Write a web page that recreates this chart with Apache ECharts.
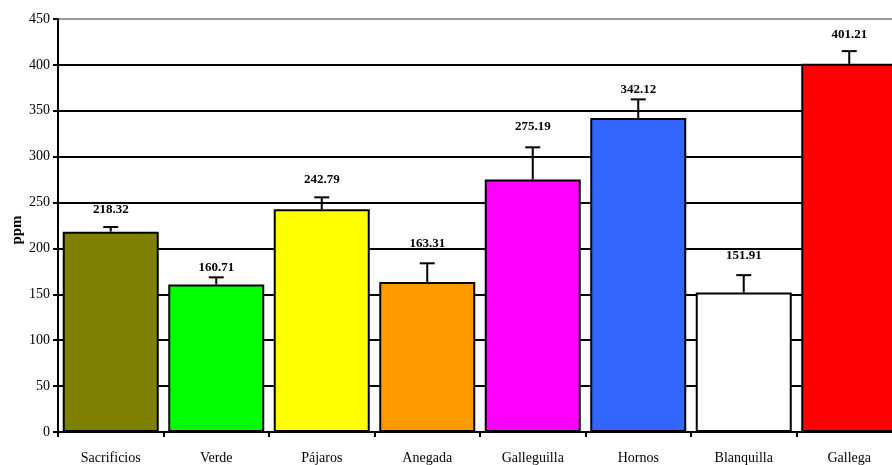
<!DOCTYPE html>
<html><head><meta charset="utf-8">
<script src="https://cdn.jsdelivr.net/npm/echarts@6/dist/echarts.min.js"></script>
<style>html,body{margin:0;padding:0;background:#fff}#c{width:892px;height:465px}</style>
</head><body><div id="c"></div>
<script>
const categories = ['Sacrificios','Verde','Pájaros','Anegada','Galleguilla','Hornos','Blanquilla','Gallega'];
const values = [218.32,160.71,242.79,163.31,275.19,342.12,151.91,401.21];
const errors = [5,7.8,12.9,20.5,35,20.3,19,13.8];
const colors = ['#808000','#00ff00','#ffff00','#ff9900','#ff00ff','#3366ff','#ffffff','#ff0000'];
const yTicks = [0,50,100,150,200,250,300,350,400,450];
// vertical pixel lift of each value label above its error-bar cap (style)
const labelLift = [17,10,18,20,20.5,10,20,16];

const chart = echarts.init(document.getElementById('c'));
const font = 'Liberation Serif';
const splitColors = yTicks.map((t,i)=> i===yTicks.length-1 ? '#999999' : '#000000');
chart.setOption({
  animation:false,
  grid:{left:58, top:19, bottom:33, width:844, outerBoundsMode:'none', containLabel:false},
  graphic:[{type:'text', x:17, y:230, rotation:Math.PI/2,
    style:{text:'ppm', fontFamily:font, fontSize:15, fontWeight:'bold', fill:'#000', align:'center', verticalAlign:'middle'}}],
  xAxis:{type:'category', data:categories,
    axisLine:{lineStyle:{color:'#000',width:2}},
    axisTick:{show:true, alignWithLabel:false, length:5, lineStyle:{color:'#000',width:2}},
    axisLabel:{fontFamily:font, fontSize:14, color:'#000', margin:19}},
  yAxis:{type:'value', min:0, max:450, interval:50,
    axisLine:{show:true, lineStyle:{color:'#000',width:2}},
    axisTick:{show:true, length:5, lineStyle:{color:'#000',width:2}},
    axisLabel:{fontFamily:font, fontSize:14, color:'#000', margin:8},
    splitLine:{show:true, lineStyle:{color:splitColors, width:2}}},
  series:[
    {type:'bar', barCategoryGap:'9%',
      data: values.map((v,i)=>({value:v, itemStyle:{color:colors[i]}})),
      itemStyle:{borderColor:'#000', borderWidth:2}, z:2},
    {type:'custom', z:3,
      data: values.map((v,i)=>[i, v, errors[i], labelLift[i]]),
      renderItem:(params, api)=>{
        const x = api.value(0), v = api.value(1), e = api.value(2), lift = api.value(3);
        const p0 = api.coord([x, v]);
        const p1 = api.coord([x, v+e]);
        const hw = 7.5;
        return {type:'group', children:[
          {type:'line', shape:{x1:p0[0], y1:p0[1], x2:p1[0], y2:p1[1]}, style:{stroke:'#000', lineWidth:2}},
          {type:'line', shape:{x1:p1[0]-hw, y1:p1[1], x2:p1[0]+hw, y2:p1[1]}, style:{stroke:'#000', lineWidth:2}},
          {type:'text', x:p1[0], y:p1[1]-lift, style:{text:v.toFixed(2), fontFamily:font, fontSize:13, fontWeight:'bold', fill:'#000', align:'center', verticalAlign:'middle'}}
        ]};
      }}
  ]
});
</script></body></html>
